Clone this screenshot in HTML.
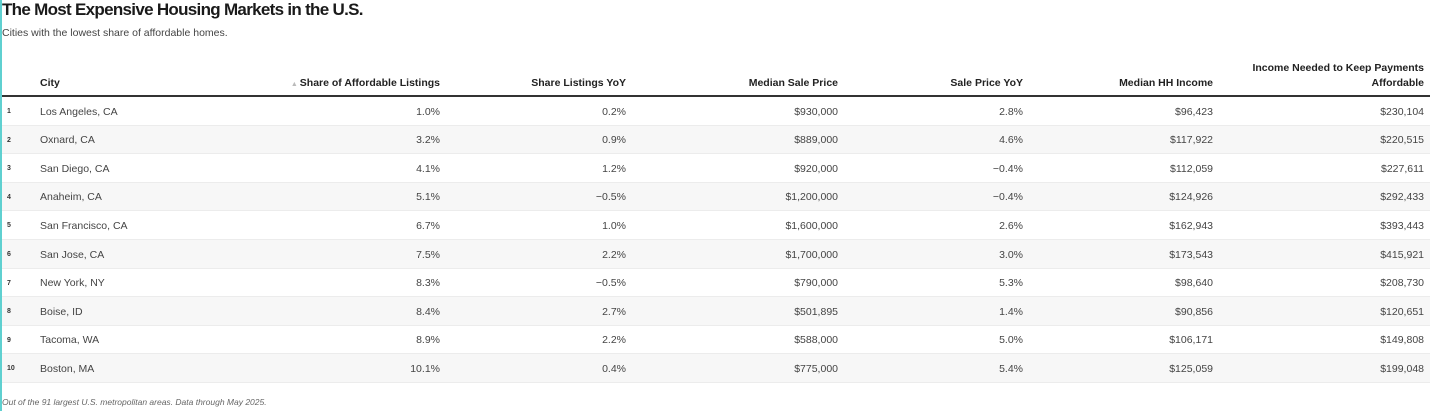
<!DOCTYPE html>
<html><head><meta charset="utf-8"><style>
*{margin:0;padding:0;box-sizing:border-box}
body{width:1440px;height:411px;background:#fff;font-family:"Liberation Sans",sans-serif;color:#222;position:relative;overflow:hidden}
.edge{position:absolute;left:0;top:0;width:1.5px;height:411px;background:#5fd0d0;z-index:10}
.t{position:absolute;left:2px;top:0px;font-size:17px;font-weight:bold;color:#1a1a1a;letter-spacing:-0.7px}
.s{position:absolute;left:2px;top:27px;font-size:10.5px;color:#444}
.f{position:absolute;left:2px;top:397px;font-size:8.5px;font-style:italic;color:#666}
.h{position:absolute;font-size:10.5px;font-weight:bold;color:#222;line-height:15px}
.hl{position:absolute;left:0;top:95px;width:1430px;height:2px;background:#333}
.row{position:absolute;left:0;width:1430px;height:28.6px;border-bottom:1px solid #ececec;font-size:10.5px;color:#444}
.row.e{background:#f7f7f7}
.row div{position:absolute;top:8.5px}
.n{left:7px;font-size:7px;font-weight:bold;top:11px!important;color:#333}
.c{left:40px}
.r{text-align:right}
</style></head><body>
<div class="edge"></div>
<div class="t">The Most Expensive Housing Markets in the U.S.</div>
<div class="s">Cities with the lowest share of affordable homes.</div>
<div class="h" style="left:40px;top:76px">City</div>
<div class="h" style="right:1000px;top:76px"><span style="color:#bbb;font-size:7px">▲ </span>Share of Affordable Listings</div>
<div class="h" style="right:814px;top:76px">Share Listings YoY</div>
<div class="h" style="right:602px;top:76px">Median Sale Price</div>
<div class="h" style="right:417px;top:76px">Sale Price YoY</div>
<div class="h" style="right:227px;top:76px">Median HH Income</div>
<div class="h r" style="right:16px;top:61px">Income Needed to Keep Payments<br>Affordable</div>
<div class="hl"></div>
<div id="rows"></div>
<script>
const d=[["Los Angeles, CA","1.0%","0.2%","$930,000","2.8%","$96,423","$230,104"],
["Oxnard, CA","3.2%","0.9%","$889,000","4.6%","$117,922","$220,515"],
["San Diego, CA","4.1%","1.2%","$920,000","−0.4%","$112,059","$227,611"],
["Anaheim, CA","5.1%","−0.5%","$1,200,000","−0.4%","$124,926","$292,433"],
["San Francisco, CA","6.7%","1.0%","$1,600,000","2.6%","$162,943","$393,443"],
["San Jose, CA","7.5%","2.2%","$1,700,000","3.0%","$173,543","$415,921"],
["New York, NY","8.3%","−0.5%","$790,000","5.3%","$98,640","$208,730"],
["Boise, ID","8.4%","2.7%","$501,895","1.4%","$90,856","$120,651"],
["Tacoma, WA","8.9%","2.2%","$588,000","5.0%","$106,171","$149,808"],
["Boston, MA","10.1%","0.4%","$775,000","5.4%","$125,059","$199,048"]];
const R=[1000,814,602,417,227,16];let h="";
d.forEach((r,i)=>{h+=`<div class="row${i%2?' e':''}" style="top:${97+i*28.6}px"><div class="n">${i+1}</div><div class="c">${r[0]}</div>`;
for(let j=1;j<7;j++)h+=`<div class="r" style="right:${R[j-1]-10}px">${r[j]}</div>`;h+="</div>";});
document.getElementById("rows").innerHTML=h;
</script>
<div class="f">Out of the 91 largest U.S. metropolitan areas. Data through May 2025.</div>
</body></html>
